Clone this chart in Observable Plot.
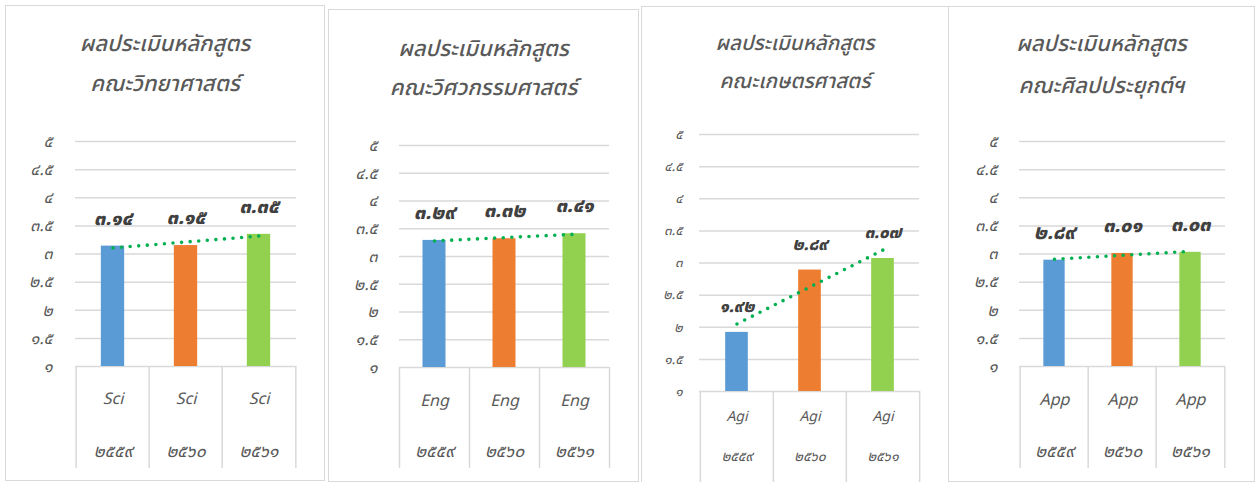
<!DOCTYPE html>
<html>
<head>
<meta charset="utf-8">
<script src="https://cdn.jsdelivr.net/npm/d3@7"></script>
<script src="https://cdn.jsdelivr.net/npm/@observablehq/plot@0.6"></script>
<style>
  html, body { margin: 0; padding: 0; background: #fff; }
  body { width: 1255px; height: 482px; position: relative; overflow: hidden;
         font-family: "Noto Sans Thai", "Noto Sans", "DejaVu Sans", sans-serif; }
  .panel { position: absolute; border: 1px solid #d9d9d9; box-sizing: border-box; background: #fff; }
  .title { position: absolute; left: 0; right: 0; text-align: center; font-style: italic; font-weight: 500; color: #595959; white-space: nowrap; }
</style>
</head>
<body>
<script>
// ---------- data ----------
const years = ["๒๕๕๙", "๒๕๖๐", "๒๕๖๑"];
const facultyCodes = ["Sci", "Eng", "Agi", "App"];
const titleLine1 = "ผลประเมินหลักสูตร";
const facultyTitles = ["คณะวิทยาศาสตร์", "คณะวิศวกรรมศาสตร์", "คณะเกษตรศาสตร์", "คณะศิลปประยุกต์ฯ"];
const sciValues = [3.14, 3.15, 3.35];
const engValues = [3.29, 3.32, 3.41];
const agiValues = [1.92, 2.89, 3.07];
const appValues = [2.89, 3.01, 3.03];
const yDomain = [1, 5];
const yTicks = [1, 1.5, 2, 2.5, 3, 3.5, 4, 4.5, 5];
const yTickLabels = ["๑", "๑.๕", "๒", "๒.๕", "๓", "๓.๕", "๔", "๔.๕", "๕"];
const barColors = ["#5B9BD5", "#ED7D31", "#92D050"];
const trendColor = "#00B050";

const thaiDigits = "๐๑๒๓๔๕๖๗๘๙";
const toThai = s => String(s).replace(/[0-9]/g, d => thaiDigits[+d]);

// ---------- layout (page pixels) ----------
const layouts = [
  {box: [5, 5, 320, 476], x0: 75, x1: 296, yTop: 141, yBot: 366, axisBottom: 468, lvl1: 398, lvl2: 451, t1: 45, t2: 85, tickRight: 52,
   fTitle: 22, fTick: 16.5, fLabel: 20, fLvl1: 16, fLvl2: 17.5, labelDy: 28, barW: 24},
  {box: [328, 9, 311, 473], x0: 399, x1: 609, yTop: 145, yBot: 367, axisBottom: 468, lvl1: 400, lvl2: 451, t1: 50, t2: 89, tickRight: 377,
   fTitle: 22, fTick: 16.5, fLabel: 20, fLvl1: 16, fLvl2: 17.5, labelDy: 28, barW: 23},
  {box: [641, 6, 308, 482], x0: 699, x1: 919, yTop: 134, yBot: 391, axisBottom: 482, lvl1: 416, lvl2: 456, t1: 44, t2: 82, tickRight: 682,
   fTitle: 20.5, fTick: 13.5, fLabel: 17, fLvl1: 14, fLvl2: 14, labelDy: 26, barW: 23},
  {box: [948, 6, 307, 476], x0: 1019, x1: 1225, yTop: 141, yBot: 366, axisBottom: 468, lvl1: 399, lvl2: 451, t1: 45, t2: 87, tickRight: 997,
   fTitle: 22, fTick: 16.5, fLabel: 20, fLvl1: 16, fLvl2: 17.5, labelDy: 28, barW: 22}
];
const seriesList = [sciValues, engValues, agiValues, appValues];

function fitLine(values) {
  const xs = values.map((_, i) => i + 1);
  const mx = d3.mean(xs), my = d3.mean(values);
  const slope = d3.sum(xs, (x, i) => (x - mx) * (values[i] - my)) / d3.sum(xs, x => (x - mx) ** 2);
  return xs.map(x => my + slope * (x - mx));
}

layouts.forEach((lay, k) => {
  const [L, T, W, H] = lay.box;
  const ox = L + 1, oy = T + 1;
  const panel = document.createElement("div");
  panel.className = "panel";
  panel.style.left = L + "px"; panel.style.top = T + "px";
  panel.style.width = W + "px"; panel.style.height = H + "px";
  document.body.appendChild(panel);

  const lh = 30;
  [[titleLine1, lay.t1], [facultyTitles[k], lay.t2]].forEach(([txt, cy]) => {
    const t = document.createElement("div");
    t.className = "title";
    t.style.top = (cy - oy - lh / 2) + "px";
    t.style.lineHeight = lh + "px";
    t.style.fontSize = lay.fTitle + "px";
    t.textContent = txt;
    panel.appendChild(t);
  });

  const values = seriesList[k];
  const rows = years.map((y, i) => ({year: y, value: values[i]}));
  const fits = fitLine(values);
  const trendRows = years.map((y, i) => ({year: y, fit: fits[i]}));

  const svgTop = lay.yTop - 30;
  const width = W - 2;
  const height = (T + H - 1) - svgTop;
  const marginLeft = lay.x0 - ox;
  const marginRight = (ox + width) - lay.x1;
  const marginTop = lay.yTop - svgTop;
  const marginBottom = (svgTop + height) - lay.yBot;
  const bw = (lay.x1 - lay.x0) / years.length;
  const inset = (bw - lay.barW) / 2;
  const plotH = lay.yBot - lay.yTop;
  const gray = "#d9d9d9";

  const chart = Plot.plot({
    width, height, marginLeft, marginRight, marginTop, marginBottom,
    x: {type: "band", domain: years, padding: 0, axis: null},
    y: {domain: yDomain, axis: null},
    color: {domain: years, range: barColors},
    style: {fontFamily: '"Noto Sans Thai", "Noto Sans", "DejaVu Sans", sans-serif', fontStyle: "italic", background: "transparent", overflow: "visible"},
    marks: [
      Plot.gridY(yTicks, {stroke: gray, strokeOpacity: 1, strokeWidth: 1.5}),
      Plot.axisY({ticks: yTicks, tickSize: 0, tickPadding: lay.x0 - lay.tickRight, fontSize: lay.fTick, color: "#595959", label: null,
                  tickFormat: v => yTickLabels[yTicks.indexOf(v)]}),
      Plot.barY(rows, {x: "year", y1: yDomain[0], y2: "value", fill: "year", insetLeft: inset, insetRight: inset}),
      Plot.line(trendRows, {x: "year", y: "fit", stroke: trendColor, strokeWidth: 3.6, strokeDasharray: "0 8.6", strokeLinecap: "round"}),
      Plot.text(rows, {x: "year", y: "value", text: d => toThai(d.value.toFixed(2)), dy: -lay.labelDy,
                       fontWeight: 800, fontSize: lay.fLabel, fill: "#404040"}),
      Plot.ruleX(years, {dx: -bw / 2, stroke: gray, strokeWidth: 1.5, insetTop: plotH, insetBottom: -(lay.axisBottom - lay.yBot)}),
      Plot.ruleX(years.slice(-1), {dx: bw / 2, stroke: gray, strokeWidth: 1.5, insetTop: plotH, insetBottom: -(lay.axisBottom - lay.yBot)}),
      Plot.axisX({tickSize: 0, tickPadding: lay.lvl1 - lay.yBot, lineAnchor: "middle", fontSize: lay.fLvl1, color: "#595959", label: null,
                  tickFormat: () => facultyCodes[k]}),
      Plot.axisX({tickSize: 0, tickPadding: lay.lvl2 - lay.yBot, lineAnchor: "middle", fontSize: lay.fLvl2, color: "#595959", label: null})
    ]
  });
  chart.style.position = "absolute";
  chart.style.left = "0px";
  chart.style.top = (svgTop - oy) + "px";
  panel.appendChild(chart);
});
</script>
</body>
</html>
